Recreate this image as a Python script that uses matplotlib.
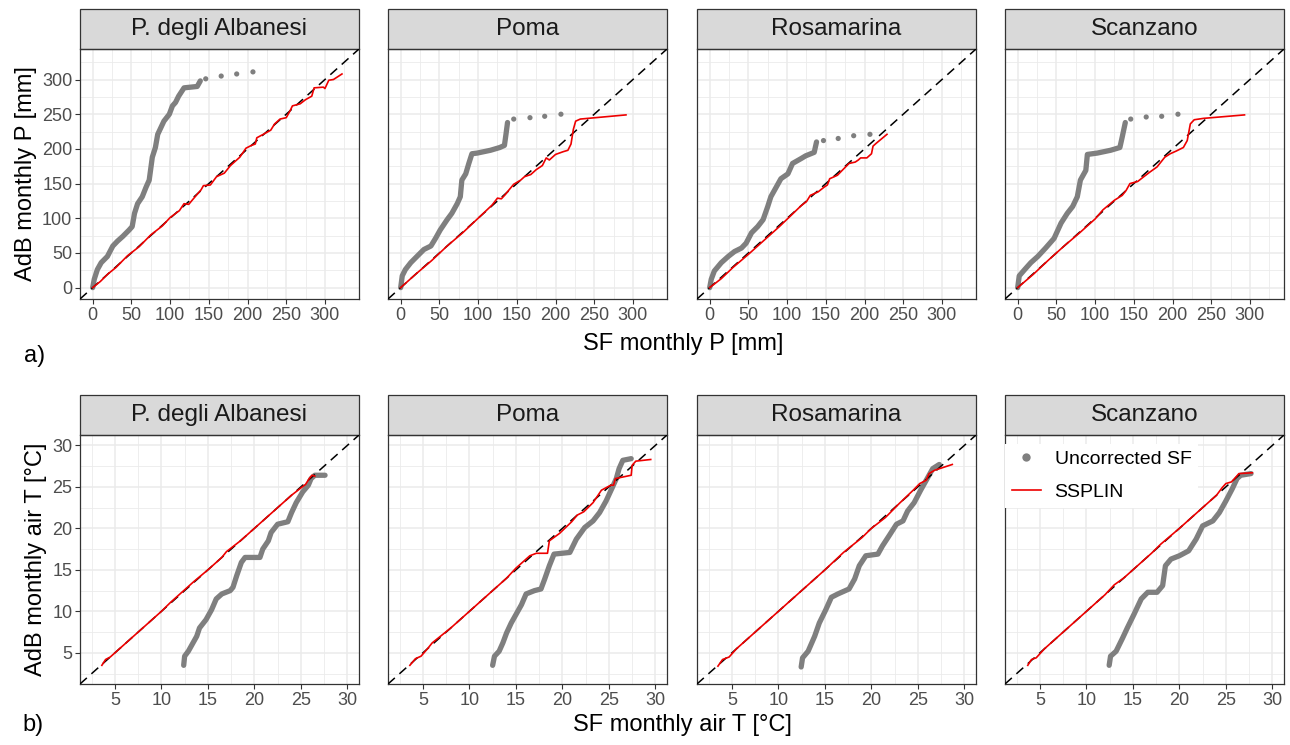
import numpy as np
import matplotlib
matplotlib.use("Agg")
import matplotlib.pyplot as plt
from matplotlib.patches import Rectangle
from matplotlib.lines import Line2D

plt.rcParams['font.family'] = ['Liberation Sans', 'DejaVu Sans']

stations = ['P. degli Albanesi', 'Poma', 'Rosamarina', 'Scanzano']

# --- a) monthly precipitation, (SF, AdB) quantile pairs
alb_p_raw = [(0, 0), (2, 12), (6, 26), (11, 36), (19, 45), (26, 60), (32, 67), (39, 74),
             (47, 83), (51, 88), (54, 107), (58, 121), (64, 131), (69, 145), (73, 155),
             (77, 188), (81, 202), (84, 221), (92, 240), (99, 250), (103, 262), (107, 267),
             (111, 276), (118, 288), (135, 290), (139, 298)]
alb_p_tail = [(146, 301), (166, 305), (186, 308), (207, 311)]
alb_p_ssplin = [(0, 0), (10, 9), (20, 20), (30, 29), (45, 46), (60, 59), (75, 76), (90, 89),
                (100, 101), (112, 111), (118, 121), (124, 120), (130, 128), (140, 141),
                (143, 147), (152, 148), (160, 160), (170, 165), (178, 176), (190, 188),
                (198, 201), (205, 205), (210, 207), (212, 216), (222, 222), (230, 227),
                (235, 236), (242, 243), (250, 245), (255, 255), (258, 262), (268, 265),
                (275, 271), (283, 276), (286, 288), (298, 289), (300, 287), (305, 299),
                (311, 300), (322, 308)]

poma_p_raw = [(0, 0), (2, 17), (6, 26), (13, 36), (21, 45), (30, 55), (39, 60), (45, 71),
              (51, 83), (60, 98), (66, 107), (73, 121), (77, 131), (79, 155), (84, 164),
              (88, 179), (92, 193), (99, 194), (116, 198), (128, 202), (134, 205),
              (136, 221), (138, 238)]
poma_p_tail = [(146, 243), (167, 245), (186, 247), (207, 250)]
poma_p_ssplin = [(0, 0), (20, 20), (40, 39), (60, 60), (80, 79), (100, 100), (118, 119),
                 (125, 129), (130, 128), (135, 134), (140, 141), (146, 149), (155, 155),
                 (160, 160), (168, 163), (175, 170), (183, 176), (188, 187), (192, 184),
                 (200, 192), (210, 196), (216, 198), (220, 207), (223, 228), (226, 240),
                 (232, 243), (291, 249)]

rosa_p_raw = [(0, 0), (2, 12), (6, 24), (15, 36), (24, 45), (32, 52), (41, 57), (47, 64),
              (54, 79), (62, 88), (69, 98), (75, 117), (79, 131), (86, 145), (92, 157),
              (101, 164), (107, 179), (118, 186), (124, 190), (135, 195), (138, 210)]
rosa_p_tail = [(147, 212), (166, 215), (186, 219), (207, 221)]
rosa_p_ssplin = [(0, 0), (15, 13), (30, 29), (50, 48), (70, 68), (90, 88), (105, 104),
                 (118, 118), (125, 124), (130, 133), (140, 138), (148, 145), (152, 148),
                 (155, 157), (165, 162), (172, 170), (180, 179), (188, 181), (192, 184),
                 (195, 187), (203, 187), (209, 193), (211, 204), (215, 208), (229, 221)]

scan_p_raw = [(0, 0), (2, 17), (9, 26), (17, 36), (26, 45), (36, 57), (47, 71), (56, 93),
              (64, 107), (71, 117), (77, 131), (81, 155), (88, 169), (90, 192), (103, 194),
              (120, 198), (132, 202), (135, 217), (139, 238)]
scan_p_tail = [(146, 243), (166, 246), (186, 247), (207, 250)]
scan_p_ssplin = [(0, 0), (20, 19), (40, 40), (60, 60), (80, 79), (100, 99), (110, 112),
                 (125, 126), (135, 133), (140, 140), (145, 150), (155, 153), (163, 160),
                 (170, 166), (180, 174), (190, 188), (197, 193), (205, 197), (214, 202),
                 (219, 212), (223, 236), (228, 242), (240, 244), (293, 249)]

# --- b) monthly air temperature
alb_t_raw = [(12.4, 3.5), (12.5, 4.6), (12.9, 5.2), (13.2, 5.8), (13.8, 7.0), (14.1, 8.0),
             (14.8, 9.0), (15.4, 10.2), (15.9, 11.5), (16.5, 12.1), (17.4, 12.5),
             (17.7, 12.9), (18.1, 14.3), (18.6, 15.9), (19.0, 16.5), (20.6, 16.5),
             (20.9, 17.5), (21.5, 18.5), (21.8, 19.5), (22.5, 20.5), (23.6, 20.8),
             (24.0, 21.9), (24.5, 23.1), (25.2, 24.4), (25.8, 25.2), (26.1, 26.0),
             (26.5, 26.4), (27.6, 26.4)]
alb_t_ssplin = [(3.6, 3.5), (4.0, 4.2), (4.5, 4.5), (5.0, 5.0), (5.6, 5.6), (6.5, 6.5),
                (8.0, 8.0), (10.0, 10.0), (11.0, 11.1), (12.5, 12.6), (13.5, 13.6),
                (15.0, 15.0), (16.5, 16.5), (17.0, 17.2), (18.5, 18.5), (20.0, 20.0),
                (22.0, 22.0), (24.0, 24.0), (25.5, 25.3), (25.9, 26.0), (26.2, 26.4),
                (26.5, 26.3)]

poma_t_raw = [(12.5, 3.5), (12.7, 4.6), (13.2, 5.2), (13.6, 6.2), (14.0, 7.4), (14.5, 8.6),
              (15.0, 9.6), (15.6, 10.8), (16.1, 12.1), (17.0, 12.5), (17.7, 12.7),
              (18.1, 13.9), (18.6, 15.5), (19.1, 16.9), (20.8, 17.1), (21.5, 18.7),
              (22.4, 20.1), (23.3, 20.9), (24.0, 21.9), (24.7, 23.3), (25.4, 25.0),
              (25.8, 26.0), (26.1, 27.2), (26.5, 28.2), (27.4, 28.4)]
poma_t_ssplin = [(3.6, 3.5), (4.2, 4.3), (4.8, 4.6), (5.5, 5.5), (6.0, 6.2), (8.0, 8.0),
                 (10.0, 10.0), (12.0, 12.0), (14.0, 14.0), (15.0, 15.2), (16.5, 16.7),
                 (17.2, 17.0), (18.4, 17.0), (18.6, 18.5), (19.7, 19.4), (21.0, 20.8),
                 (21.6, 21.6), (22.3, 22.0), (23.3, 23.1), (24.2, 24.6), (25.2, 25.2),
                 (25.5, 25.2), (25.7, 26.0), (27.4, 26.4), (27.5, 27.6), (27.9, 28.1),
                 (29.5, 28.3)]

rosa_t_raw = [(12.45, 3.3), (12.6, 4.4), (13.2, 5.2), (13.9, 7.0), (14.4, 8.6), (15.1, 10.2),
              (15.7, 11.7), (16.4, 12.1), (17.6, 12.7), (18.2, 13.9), (18.7, 15.5),
              (19.4, 16.7), (20.7, 16.9), (21.2, 17.9), (21.9, 19.1), (22.7, 20.5),
              (23.4, 20.9), (23.9, 22.1), (24.6, 23.1), (25.3, 24.6), (26.0, 26.0),
              (26.6, 27.2), (27.3, 27.7)]
rosa_t_ssplin = [(3.5, 3.4), (4.0, 4.2), (4.7, 4.5), (5.5, 5.5), (7.0, 7.0), (9.0, 9.0),
                 (11.0, 11.0), (13.0, 13.0), (15.0, 15.0), (17.0, 17.1), (19.0, 18.9),
                 (20.0, 20.0), (21.5, 21.3), (23.0, 23.0), (24.5, 24.6), (25.2, 25.4),
                 (25.9, 25.8), (26.2, 26.6), (26.8, 27.0), (28.7, 27.7)]

scan_t_raw = [(12.45, 3.5), (12.6, 4.6), (13.2, 5.2), (13.9, 6.8), (14.4, 8.0), (15.1, 9.6),
              (15.9, 11.5), (16.6, 12.3), (17.6, 12.3), (18.2, 13.1), (18.5, 15.5),
              (19.1, 16.3), (20.0, 16.7), (21.0, 17.3), (21.8, 18.7), (22.5, 20.3),
              (23.6, 20.9), (24.3, 21.9), (25.0, 23.3), (25.7, 24.8), (26.2, 26.0),
              (26.6, 26.4), (27.7, 26.6)]
scan_t_ssplin = [(3.7, 3.5), (4.1, 4.2), (4.6, 4.4), (5.5, 5.5), (6.2, 6.2), (8.0, 8.0),
                 (10.0, 10.0), (12.0, 12.0), (13.0, 13.2), (14.0, 14.0), (15.0, 15.0),
                 (17.0, 17.0), (18.0, 18.1), (20.0, 20.0), (22.0, 22.0), (24.0, 24.0),
                 (24.6, 24.9), (25.0, 25.4), (25.6, 25.6), (26.1, 26.2), (26.4, 26.6),
                 (27.85, 26.7)]

p_ticks = [0, 50, 100, 150, 200, 250, 300]
t_ticks = [5, 10, 15, 20, 25, 30]

GRAY = '#7f7f7f'
FRAME = '#333333'
GRID = '#ebebeb'

W, H = 1290, 745
fig = plt.figure(figsize=(W / 100, H / 100), dpi=100)

col_x = [80, 388, 697, 1005]
panel_w = 279


def make_axes(left, top, height):
    return fig.add_axes([left / W, 1 - (top + height) / H, panel_w / W, height / H])


def style_panel(ax, title, lims, ticks, minor, show_y, h_px):
    ax.set_xlim(lims)
    ax.set_ylim(lims)
    ax.set_xticks(ticks)
    ax.set_yticks(ticks)
    ax.set_xticks(minor, minor=True)
    ax.set_yticks(minor, minor=True)
    ax.grid(True, which='major', color=GRID, lw=1.1, zorder=0)
    ax.grid(True, which='minor', color=GRID, lw=0.6, zorder=0)
    ax.set_axisbelow(True)
    for s in ax.spines.values():
        s.set_color(FRAME)
        s.set_linewidth(0.9)
    ax.tick_params(which='major', length=3.5, width=0.8, color=FRAME,
                   labelsize=13, labelcolor='#4d4d4d', pad=2)
    ax.tick_params(which='minor', length=0)
    if not show_y:
        ax.tick_params(axis='y', which='both', left=False, labelleft=False)
    # strip on top
    sh = 40 / h_px
    ax.add_patch(Rectangle((0, 1), 1, sh, transform=ax.transAxes, clip_on=False,
                           facecolor='#d9d9d9', edgecolor=FRAME, lw=0.9))
    ax.text(0.5, 1 + sh / 2, title, transform=ax.transAxes, ha='center', va='center',
            fontsize=17.5, color='#1a1a1a')
    ax.plot(lims, lims, color='black', lw=1.1, dashes=(6, 4), zorder=3)


def draw(ax, raw, ssplin, tail=None):
    rx, ry = zip(*raw)
    ax.plot(rx, ry, color=GRAY, lw=3.8, solid_capstyle='round',
            solid_joinstyle='round', zorder=2)
    if tail:
        tx, ty = zip(*tail)
        ax.scatter(tx, ty, s=14, color=GRAY, edgecolors='none', zorder=2)
    sx, sy = zip(*ssplin)
    ax.plot(sx, sy, color='#ee0000', lw=1.2, zorder=4)


p_raw = [alb_p_raw, poma_p_raw, rosa_p_raw, scan_p_raw]
p_tail = [alb_p_tail, poma_p_tail, rosa_p_tail, scan_p_tail]
p_ss = [alb_p_ssplin, poma_p_ssplin, rosa_p_ssplin, scan_p_ssplin]
t_raw = [alb_t_raw, poma_t_raw, rosa_t_raw, scan_t_raw]
t_ss = [alb_t_ssplin, poma_t_ssplin, rosa_t_ssplin, scan_t_ssplin]

p_lims = (-16.4, 344)
t_lims = (1.25, 31.25)

for i, name in enumerate(stations):
    ax = make_axes(col_x[i], 49, 250)
    style_panel(ax, name, p_lims, p_ticks, [25, 75, 125, 175, 225, 275, 325], i == 0, 250)
    draw(ax, p_raw[i], p_ss[i], p_tail[i])
    if i == 0:
        ax.set_ylabel('AdB monthly P [mm]', fontsize=17, labelpad=4)

for i, name in enumerate(stations):
    ax = make_axes(col_x[i], 435, 249)
    style_panel(ax, name, t_lims, t_ticks, [2.5, 7.5, 12.5, 17.5, 22.5, 27.5], i == 0, 249)
    draw(ax, t_raw[i], t_ss[i])
    if i == 0:
        ax.set_ylabel('AdB monthly air T [°C]', fontsize=17, labelpad=4)
    if i == 3:
        handles = [Line2D([], [], ls='none', marker='o', ms=6, color=GRAY, mec='none'),
                   Line2D([], [], color='#ee0000', lw=1.2)]
        leg = ax.legend(handles, ['Uncorrected SF', 'SSPLIN'], loc='upper left',
                        bbox_to_anchor=(0.0, 0.965), borderaxespad=0, fontsize=14,
                        frameon=True, fancybox=False, handlelength=1.5,
                        handletextpad=0.7, labelspacing=0.8, borderpad=0.35)
        leg.get_frame().set_facecolor('white')
        leg.get_frame().set_edgecolor('none')
        leg.get_frame().set_alpha(1)

fig.text(683 / W, 1 - 344 / H, 'SF monthly P [mm]', ha='center', va='center', fontsize=17)
fig.text(682 / W, 1 - 725 / H, 'SF monthly air T [°C]', ha='center', va='center', fontsize=17)
fig.text(24 / W, 1 - 356 / H, 'a)', ha='left', va='center', fontsize=17)
fig.text(22 / W, 1 - 725 / H, 'b)', ha='left', va='center', fontsize=17)

fig.savefig('out.png', dpi=100)
